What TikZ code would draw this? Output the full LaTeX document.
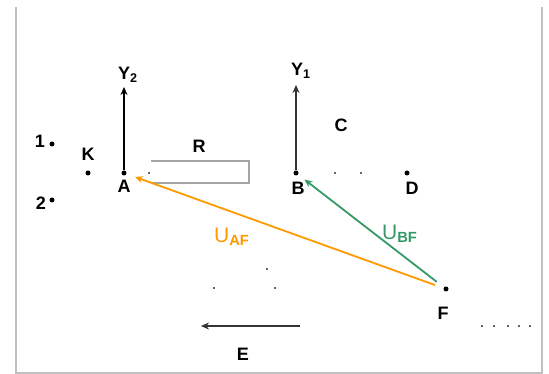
\documentclass[tikz,border=0pt]{standalone}
\usepackage{fontspec}
\setmainfont{Liberation Sans}
\usetikzlibrary{arrows.meta}
\definecolor{uaf}{RGB}{255,153,0}
\definecolor{ubf}{RGB}{51,153,102}
\definecolor{framegray}{RGB}{192,192,192}
\definecolor{boxgray}{RGB}{165,165,165}
\begin{document}
\begin{tikzpicture}[x=1pt,y=1pt,
  pt/.style={circle,fill=black,inner sep=0pt,minimum size=5pt},
  sm/.style={fill=black!60,inner sep=0pt,minimum size=2.5pt},
  lbl/.style={font=\fontsize{18}{20}\selectfont\bfseries,inner sep=0pt},
  ulbl/.style={font=\fontsize{21}{23}\selectfont,inner sep=0pt},
  vec/.style={-{Stealth[length=8pt,width=7pt]},line width=2pt}]
 \useasboundingbox (0,0) rectangle (549,374);
 \draw[framegray,line width=2.2pt] (16,367) -- (16,1) -- (542,1) -- (542,367);
 % points
 \node[pt] (A) at (124,201) {};
 \node[pt] (B) at (296,201) {};
 \node[pt] (D) at (407,201) {};
 \node[pt] (K) at (88,201) {};
 \node[pt] (p1) at (52,230) {};
 \node[pt] (p2) at (52,174) {};
 \node[pt] (F) at (446,85) {};
 \node[sm] (s1) at (149,201) {};
 \node[sm] (s2) at (335,201) {};
 \node[sm] (s3) at (361,201) {};
 \node[sm] (s4) at (267,105) {};
 \node[sm] (s5) at (214,86) {};
 \node[sm] (s6) at (275,86) {};
 \foreach \i/\x in {1/482,2/494,3/508,4/519,5/530}
   \node[sm] (t\i) at (\x,48) {};
 \coordinate (Y2) at (124,287);
 \coordinate (Y1) at (296,289);
 \coordinate (Es) at (300,48);
 \coordinate (Ee) at (201,48);
 % labels
 \node[lbl] (lA) at (124,188) {A};
 \node[lbl] (lB) at (298,186) {B};
 \node[lbl] (lD) at (412,186) {D};
 \node[lbl] (lK) at (88,220) {K};
 \node[lbl] (l1) at (40,233) {1};
 \node[lbl] (l2) at (41,171) {2};
 \node[lbl] (lC) at (341,249) {C};
 \node[lbl] (lR) at (199,228) {R};
 \node[lbl] (lF) at (443,61) {F};
 \node[lbl] (lE) at (243,20) {E};
 \node[lbl,anchor=west] (lY2) at (118,299) {Y\textsubscript{2}};
 \node[lbl,anchor=west] (lY1) at (291,303) {Y\textsubscript{1}};
 \node[ulbl,uaf,anchor=west] (lUAF) at (214,137) {U\textsubscript{\bfseries AF}};
 \node[ulbl,ubf,anchor=west] (lUBF) at (382,140) {U\textsubscript{\bfseries BF}};
 % box R
 \draw[boxgray,line width=2pt] (151,213) -| (249,191) -- (151,191);
 % vectors
 \draw[vec] (A) -- (Y2);
 \draw[vec,black!80] (B) -- (Y1);
 \draw[vec,black!80] (Es) -- (Ee);
 \draw[vec,uaf,line width=1.8pt,shorten <=9pt,shorten >=9pt] (F) -- (A);
 \draw[vec,ubf,line width=1.8pt,shorten <=9pt,shorten >=8pt] (F) -- (B);
\end{tikzpicture}
\end{document}
